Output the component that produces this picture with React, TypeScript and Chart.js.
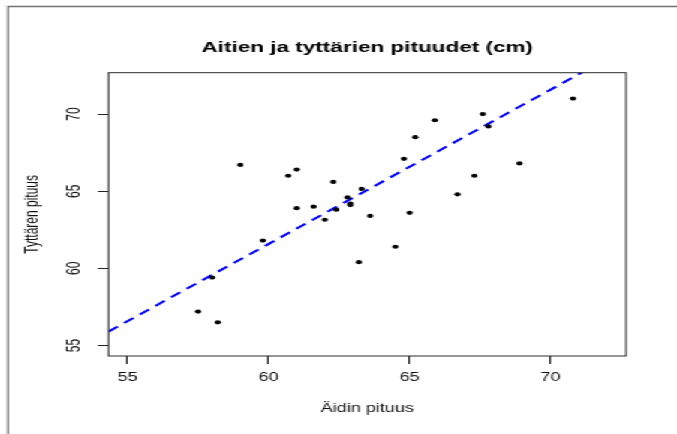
import React, { useEffect, useRef } from "react";
import { Chart, registerables } from "chart.js";
Chart.register(...registerables);

const chartTitle = "Aitien ja tyttärien pituudet (cm)";
const xTitle = "Äidin pituus";
const yTitle = "Tyttären pituus";
const xTickValues = [55, 60, 65, 70];
const yTickValues = [55, 60, 65, 70];
const axisMin = 54.32;
const axisMax = 72.68;

const motherHeights = [
  59.0, 60.7, 61.0, 62.3, 63.3, 62.8, 62.9, 62.9, 61.0, 61.6, 62.4, 62.0, 63.6,
  64.8, 65.2, 65.9, 67.6, 67.8, 70.8, 68.9, 67.3, 66.7, 65.0, 59.8, 63.2, 58.0,
  57.5, 58.2, 64.5,
];
const daughterHeights = [
  66.7, 66.0, 66.4, 65.6, 65.15, 64.6, 64.1, 64.2, 63.9, 64.0, 63.8, 63.15, 63.4,
  67.1, 68.5, 69.6, 70.0, 69.2, 71.0, 66.8, 66.0, 64.8, 63.6, 61.8, 60.4, 59.4,
  57.2, 56.5, 61.4,
];
const fitLineX = [54.32, 72.68];
const fitLineY = [55.9, 74.26];

const W = 451;
const H = 434;
const STRETCH = 677 / W;
const FONT = '"Liberation Sans", Arial, Helvetica, sans-serif';

const decorPlugin = {
  id: "decor",
  beforeDraw(chart: any) {
    const ctx = chart.ctx;
    ctx.save();
    ctx.fillStyle = "#ffffff";
    ctx.fillRect(0, 0, chart.width, chart.height);
    ctx.restore();
  },
  afterDraw(chart: any) {
    const { ctx, chartArea: a, scales } = chart;
    ctx.save();
    // outer frame
    ctx.strokeStyle = "#737373";
    ctx.lineWidth = 1.3;
    ctx.beginPath();
    ctx.moveTo(5.3, H);
    ctx.lineTo(5.3, 6.5);
    ctx.lineTo(W, 6.5);
    ctx.stroke();
    // plot box
    ctx.strokeStyle = "#2a2a2a";
    ctx.lineWidth = 1;
    ctx.strokeRect(a.left, a.top, a.right - a.left, a.bottom - a.top);
    const cx = (a.left + a.right) / 2;
    const cy = (a.top + a.bottom) / 2;
    // title
    ctx.fillStyle = "#000";
    ctx.textAlign = "center";
    ctx.textBaseline = "alphabetic";
    ctx.font = `bold 15px ${FONT}`;
    ctx.fillText(chartTitle, cx, 51.5);
    // x title
    ctx.font = `12px ${FONT}`;
    ctx.fillStyle = "#111";
    ctx.fillText(xTitle, cx, 411.5);
    // y tick labels (rotated)
    ctx.textBaseline = "middle";
    for (const v of yTickValues) {
      const y = scales.y.getPixelForValue(v);
      ctx.save();
      ctx.translate(50, y);
      ctx.rotate(-Math.PI / 2);
      ctx.fillText(String(v), 0, 0);
      ctx.restore();
    }
    // y title
    ctx.save();
    ctx.translate(21.3, cy);
    ctx.rotate(-Math.PI / 2);
    ctx.fillText(yTitle, 0, 0);
    ctx.restore();
    ctx.restore();
  },
};

export default function App() {
  const ref = useRef<HTMLCanvasElement | null>(null);
  useEffect(() => {
    if (!ref.current) return;
    Chart.defaults.font.family = FONT;
    const chart = new Chart(ref.current, {
      type: "scatter",
      data: {
        datasets: [
          {
            data: motherHeights.map((x, i) => ({ x, y: daughterHeights[i] })),
            backgroundColor: "#000",
            borderWidth: 0,
            pointRadius: 2.1,
            pointHoverRadius: 2.1,
          },
          {
            data: fitLineX.map((x, i) => ({ x, y: fitLineY[i] })),
            showLine: true,
            borderColor: "#0000ff",
            borderWidth: 2,
            borderDash: [8, 5.5],
            pointRadius: 0,
            clip: 0,
          } as any,
        ],
      },
      options: {
        responsive: false,
        animation: false,
        devicePixelRatio: 1,
        layout: { padding: { left: 0, right: W - 417.1, top: 72.7, bottom: 0 } },
        plugins: { legend: { display: false }, tooltip: { enabled: false }, title: { display: false } },
        scales: {
          x: {
            type: "linear",
            min: axisMin,
            max: axisMax,
            afterBuildTicks: (s: any) => {
              s.ticks = xTickValues.map((v) => ({ value: v }));
            },
            afterFit: (s: any) => {
              s.height = H - 356;
            },
            border: { display: false },
            grid: { drawOnChartArea: false, drawTicks: true, tickLength: 8, color: "#222", lineWidth: 1 },
            ticks: { font: { size: 12, family: FONT }, color: "#111", padding: 6, maxRotation: 0, autoSkip: false },
          },
          y: {
            type: "linear",
            min: axisMin,
            max: axisMax,
            afterBuildTicks: (s: any) => {
              s.ticks = yTickValues.map((v) => ({ value: v }));
            },
            afterFit: (s: any) => {
              s.width = 72.2;
            },
            border: { display: false },
            grid: { drawOnChartArea: false, drawTicks: true, tickLength: 7, color: "#222", lineWidth: 1 },
            ticks: { display: false },
          },
        },
      },
      plugins: [decorPlugin],
    } as any);
    return () => chart.destroy();
  }, []);
  return (
    <div
      style={{
        position: "fixed",
        left: 0,
        top: 0,
        width: W,
        height: H,
        transform: `scaleX(${STRETCH})`,
        transformOrigin: "0 0",
        background: "#fff",
      }}
    >
      <canvas ref={ref} width={W} height={H} style={{ display: "block" }} />
    </div>
  );
}
